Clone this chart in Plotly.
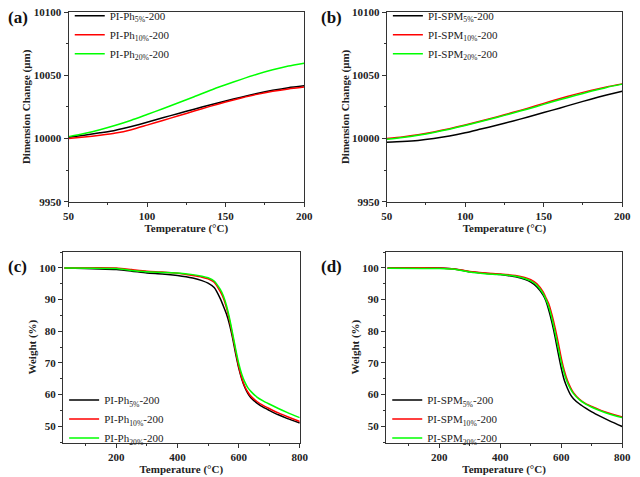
import plotly.graph_objects as go

# ---------- data ----------
temp_tma = [50, 60, 70, 80, 90, 100, 110, 120, 130, 140, 150, 160, 170, 180, 190, 200]

ph5_tma = [10001.0, 10002.6, 10004.5, 10006.6, 10009.5, 10012.8, 10016.4, 10019.8, 10023.2, 10026.5,
           10029.7, 10032.7, 10035.6, 10038.1, 10040.2, 10041.7]
ph10_tma = [10000.0, 10001.2, 10002.6, 10004.3, 10007.0, 10010.6, 10014.3, 10018.0, 10021.7, 10025.4,
            10028.8, 10032.0, 10034.9, 10037.3, 10039.2, 10040.7]
ph20_tma = [10001.5, 10004.0, 10007.0, 10010.5, 10014.5, 10019.0, 10023.5, 10028.3, 10033.0, 10038.0,
            10042.5, 10046.8, 10050.8, 10054.3, 10057.3, 10059.6]

spm5_tma = [9997.0, 9997.6, 9998.5, 10000.0, 10002.0, 10004.5, 10007.5, 10010.5, 10013.7, 10017.0,
            10020.5, 10024.0, 10027.6, 10031.1, 10034.4, 10037.4]
spm10_tma = [10000.0, 10001.3, 10003.0, 10005.2, 10007.8, 10010.7, 10013.8, 10017.0, 10020.5, 10024.0,
             10027.8, 10031.4, 10034.9, 10038.0, 10040.8, 10043.2]
spm20_tma = [9999.4, 10000.8, 10002.6, 10004.8, 10007.4, 10010.3, 10013.4, 10016.6, 10020.0, 10023.4,
             10027.0, 10030.6, 10034.0, 10037.3, 10040.4, 10043.0]

temp_tga = [30, 200, 250, 300, 350, 400, 450, 480, 500, 520, 540, 550, 560, 570, 580, 590, 600,
            610, 620, 630, 640, 660, 680, 700, 730, 760, 800]

ph5_tga = [100.0, 99.5, 99.0, 98.4, 98.1, 97.6, 96.8, 96.0, 95.2, 93.8, 90.3, 88.0, 85.5, 82.2, 78.0,
           73.0, 68.5, 65.0, 62.3, 60.4, 59.0, 57.3, 56.0, 55.0, 53.6, 52.4, 51.0]
ph10_tga = [100.0, 100.0, 99.5, 99.0, 98.7, 98.3, 97.6, 97.1, 96.6, 95.5, 92.5, 90.5, 87.5, 83.5, 78.8,
            73.8, 69.0, 65.3, 62.6, 60.8, 59.5, 57.8, 56.6, 55.6, 54.2, 53.0, 51.5]
ph20_tga = [100.0, 99.8, 99.2, 98.8, 98.6, 98.4, 97.9, 97.4, 96.9, 95.9, 93.2, 91.2, 88.2, 84.2, 79.5,
            74.5, 70.0, 66.5, 64.0, 62.2, 61.0, 59.2, 58.0, 57.0, 55.6, 54.3, 52.7]

spm5_tga = [100.0, 100.0, 99.7, 98.8, 98.3, 97.9, 97.2, 96.4, 95.5, 94.0, 91.5, 89.5, 86.3, 82.5, 78.0,
            73.0, 68.3, 64.5, 62.0, 60.0, 58.7, 57.0, 55.7, 54.5, 53.0, 51.6, 49.9]
spm10_tga = [100.0, 100.0, 99.7, 98.9, 98.4, 98.1, 97.6, 97.0, 96.3, 95.0, 92.5, 90.5, 88.4, 85.0, 81.0,
             76.4, 71.5, 67.5, 64.5, 62.3, 60.6, 58.5, 57.1, 56.2, 55.0, 54.0, 52.9]
spm20_tga = [99.9, 99.8, 99.6, 98.7, 98.2, 97.9, 97.4, 96.7, 95.9, 94.5, 92.0, 90.0, 87.4, 83.8, 79.5,
             74.8, 70.2, 66.6, 63.8, 61.8, 60.3, 58.3, 57.0, 56.0, 54.8, 53.8, 52.7]

ph_names = ["PI-Ph<sub>5%</sub>-200", "PI-Ph<sub>10%</sub>-200", "PI-Ph<sub>20%</sub>-200"]
spm_names = ["PI-SPM<sub>5%</sub>-200", "PI-SPM<sub>10%</sub>-200", "PI-SPM<sub>20%</sub>-200"]

colors = ["#000000", "#ff0000", "#00ff00"]
FONT = "Liberation Serif"

fig = go.Figure()

panels = [
    ("x", "y", temp_tma, [ph5_tma, ph10_tma, ph20_tma], ph_names, "legend"),
    ("x2", "y2", temp_tma, [spm5_tma, spm10_tma, spm20_tma], spm_names, "legend2"),
    ("x3", "y3", temp_tga, [ph5_tga, ph10_tga, ph20_tga], ph_names, "legend3"),
    ("x4", "y4", temp_tga, [spm5_tga, spm10_tga, spm20_tga], spm_names, "legend4"),
]
for xa, ya, xs, series, names, leg in panels:
    for ys, nm, c in zip(series, names, colors):
        fig.add_trace(go.Scatter(x=xs, y=ys, mode="lines", name=nm, xaxis=xa, yaxis=ya,
                                 line=dict(color=c, width=1.5, shape="spline", smoothing=0.6),
                                 legend=leg))

tickfont = dict(family=FONT, size=11, color="#222", weight="bold")
titlefont = dict(family=FONT, size=11, color="#222", weight="bold")


def axis(domain, rng, dtick, title, anchor, minor_dtick):
    return dict(domain=domain, range=rng, dtick=dtick, tick0=0, showgrid=False, zeroline=False,
                showline=True, linecolor="#333", linewidth=1, mirror=True,
                ticks="outside", ticklen=4, tickcolor="#333", tickwidth=1, tickformat="d",
                minor=dict(ticks="outside", ticklen=2, dtick=minor_dtick, tickcolor="#333", showgrid=False),
                tickfont=tickfont, title=dict(text=title, font=titlefont, standoff=0),
                anchor=anchor)


temp_title = "Temperature (°C)"
fig.update_layout(
    width=640, height=477, margin=dict(l=0, r=0, t=0, b=0),
    paper_bgcolor="white", plot_bgcolor="white",
    xaxis=axis([0.100, 0.477], [50, 200], 50, temp_title, "y", 25),
    yaxis=axis([0.579, 0.987], [9950, 10100], 50, "Dimension Change (μm)", "x", 25),
    xaxis2=axis([0.609, 0.986], [50, 200], 50, temp_title, "y2", 25),
    yaxis2=axis([0.579, 0.987], [9950, 10100], 50, "Dimension Change (μm)", "x2", 25),
    xaxis3=axis([0.091, 0.470], [25, 800], 200, temp_title, "y3", 100),
    yaxis3=axis([0.061, 0.472], [44.8, 105.2], 10, "Weight (%)", "x3", 5),
    xaxis4=axis([0.608, 0.986], [25, 800], 200, temp_title, "y4", 100),
    yaxis4=axis([0.061, 0.472], [44.8, 105.2], 10, "Weight (%)", "x4", 5),
    showlegend=True,
)

legfont = dict(family=FONT, size=11, color="#222")
common_leg = dict(bgcolor="rgba(0,0,0,0)", borderwidth=0, font=legfont, tracegroupgap=0,
                  itemwidth=30, xanchor="left")
fig.update_layout(
    legend=dict(x=0.102, y=1.01, yanchor="top", **common_leg),
    legend2=dict(x=0.611, y=1.01, yanchor="top", **common_leg),
    legend3=dict(x=0.093, y=0.04, yanchor="bottom", **common_leg),
    legend4=dict(x=0.610, y=0.04, yanchor="bottom", **common_leg),
)

for txt, x, y in [("(a)", 0.0, 0.975), ("(b)", 0.5, 0.975), ("(c)", 0.0, 0.44), ("(d)", 0.5, 0.44)]:
    fig.add_annotation(text=txt, x=x, y=y, xref="paper", yref="paper", xanchor="left", yanchor="middle",
                       showarrow=False, font=dict(family=FONT, size=17, color="#111", weight="bold"))

fig.write_html("out.html", config={"displayModeBar": False},
               post_script="document.body.style.margin='0';document.body.style.padding='0';")
